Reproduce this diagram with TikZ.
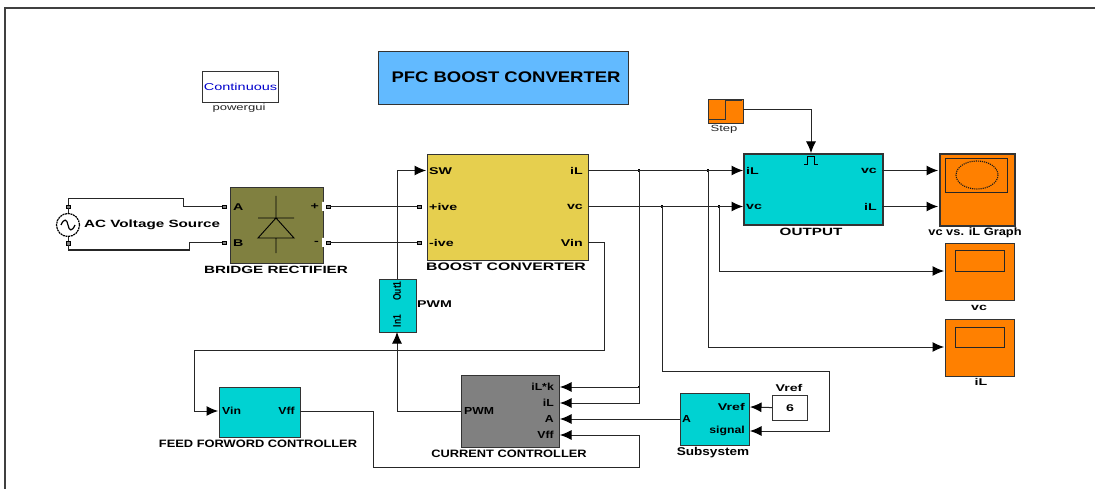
\documentclass[tikz,border=0pt]{standalone}
\usepackage{fontspec}
\usetikzlibrary{arrows.meta}
\setmainfont{Liberation Sans}
\newfontfamily\widesans[FakeStretch=1.2]{Liberation Sans}
\newfontfamily\extrasans[FakeStretch=1.45]{Liberation Sans}
\definecolor{cyanblock}{RGB}{0,210,210}
\definecolor{scopeor}{RGB}{255,128,0}
\definecolor{olive}{RGB}{128,128,64}
\definecolor{gold}{RGB}{230,207,78}
\definecolor{titleblue}{RGB}{98,186,255}
\definecolor{grayblock}{RGB}{128,128,128}
\tikzset{
  x=1pt,y=-1pt,
  wire/.style={draw=black!85,line width=1pt},
  arr/.style={wire,-{Latex[length=11.5pt,width=10pt,black]}},
  block/.style={draw=black!80,line width=1.1pt,inner sep=0pt,minimum width=0pt},
  lab/.style={font=\extrasans\bfseries\fontsize{9.8}{11}\selectfont,inner sep=0pt,text=black},
  labn/.style={font=\widesans\bfseries\fontsize{10.2}{11}\selectfont,inner sep=0pt,text=black},
  caption/.style={font=\extrasans\bfseries\fontsize{10.5}{12}\selectfont,inner sep=0pt,text=black},
  captionn/.style={font=\widesans\bfseries\fontsize{10.7}{12}\selectfont,inner sep=0pt,text=black},
  small/.style={font=\extrasans\fontsize{9}{10}\selectfont,inner sep=0pt,text=black!85},
  portsq/.style={draw=black,fill=black!50,line width=0.4pt,minimum width=3.5pt,minimum height=3.5pt,inner sep=0pt},
  dot/.style={fill=black,rectangle,inner sep=0pt,minimum size=2.6pt},
  rot/.style={font=\bfseries\fontsize{8.5}{10}\selectfont,rotate=90,inner sep=0pt},
}
\newcommand{\rectblock}[7]{% name, x1,y1,x2,y2, style, text
  \node[block,#6,minimum width={#4-#2},minimum height={#5-#3},anchor=north west] (#1) at (#2,#3) {#7};}
\begin{document}
\begin{tikzpicture}
\useasboundingbox (0,0) rectangle (1095,489);
\fill[white] (0,0) rectangle (1095,489);
% frame
\draw[black!75,line width=1.4pt] (5,489) -- (5,8) -- (1095,8);

% title and powergui
\rectblock{title}{378}{51}{628}{104}{fill=titleblue}{}
\node[font=\widesans\bfseries\fontsize{15.4}{17}\selectfont,inner sep=0pt] (titlet) at (506,77) {PFC BOOST CONVERTER};
\rectblock{gui}{202}{71}{278}{102}{fill=white}{\fontsize{10}{11}\extrasans\color{blue!80!black}Continuous}
\node[small] (guil) at (239,108) {powergui};

% source
\node[draw=black,dash pattern=on 2pt off 0.7pt,circle,line width=1.2pt,minimum size=23pt,inner sep=0pt] (src) at (68,225) {};
\draw[line width=1.2pt] (61,225) .. controls (64,218) and (67,219) .. (68,225) .. controls (69,231) and (72,232) .. (75,225);
\node[font=\extrasans\bfseries\fontsize{10.5}{12}\selectfont,inner sep=0pt,anchor=west] (srcl) at (84,225) {AC Voltage Source};
\node[portsq] (srcA) at (68,206.5) {};
\node[portsq] (srcB) at (68,243) {};
\draw[wire] (srcA) -- (src);
\draw[wire] (srcB) -- (src);

% bridge
\rectblock{bridge}{230}{187}{323}{263}{fill=olive}{}
\fill[white] (322,202) rectangle (324.5,211) (322,238) rectangle (324.5,247);
\node[lab,anchor=west] (brA) at (233,207) {A};
\node[lab,anchor=west] (brB) at (233,243) {B};
\node[lab,anchor=east] (brP) at (319,207) {+};
\node[lab,anchor=east] (brM) at (319,243) {-};
\draw[line width=0.9pt] (276,196) -- (276,218) (258,218) -- (294,218) -- (276,218) -- (258,238) -- (294,238) -- (276,218) (276,238) -- (276,253);
\node[caption] (brl) at (276,270) {BRIDGE RECTIFIER};
\node[portsq] (inA) at (224,206.5) {};
\node[portsq] (inB) at (224,242.5) {};
\node[portsq] (outP) at (328,206.5) {};
\node[portsq] (outM) at (328,242.5) {};

% boost
\rectblock{boost}{427}{154}{588}{260}{fill=gold}{}
\node[lab,anchor=west] at (429,171) {SW};
\node[lab,anchor=west] at (429,207) {+ive};
\node[lab,anchor=west] at (429,243) {-ive};
\node[lab,anchor=east] at (583,171) {iL};
\node[lab,anchor=east] at (583,207) {vc};
\node[lab,anchor=east] at (583,243) {Vin};
\node[caption,font=\extrasans\bfseries\fontsize{10.9}{12}\selectfont] (bol) at (506,267) {BOOST CONVERTER};
\node[portsq] (inP) at (419,206.5) {};
\node[portsq] (inM) at (419,242.5) {};
\coordinate (bSW) at (426,170.5);
\coordinate (biL) at (588,170.5);
\coordinate (bvc) at (588,206.5);
\coordinate (bVin) at (588,242.5);

% pwm
\rectblock{pwm}{379}{279}{416}{332}{fill=cyanblock}{}
\node[rot] at (397,291) {\scalebox{1}[1.3]{Out1}};
\node[rot] at (397,321) {\scalebox{1}[1.3]{In1}};
\node[lab,anchor=west] (pwml) at (417,304) {PWM};
\coordinate (pwmOut) at (397,279);
\coordinate (pwmIn) at (397,332);

% output
\rectblock{output}{743}{153}{882}{224}{fill=cyanblock,line width=1.6pt}{}
\node[lab,anchor=west] at (746,171) {iL};
\node[lab,anchor=west] at (746,207) {vc};
\node[lab,anchor=east] at (877,171) {vc};
\node[lab,anchor=east] at (877,207) {iL};
\node[caption] (outl) at (811,232) {OUTPUT};
\draw[line width=0.8pt] (804,164.5) -- (807,164.5) -- (807,156) -- (814,156) -- (814,164.5) -- (818,164.5);
\coordinate (oiL) at (743,170.5);
\coordinate (ovc) at (743,206.5);
\coordinate (ostep) at (811,153);
\coordinate (oa) at (882,170.5);
\coordinate (ob) at (882,206.5);

% step
\rectblock{stepblk}{708}{99}{743}{123}{fill=scopeor}{}
\draw[line width=0.7pt,black!80] (709,119) -- (725,119) -- (725,100) -- (742,100);
\node[small] (stepl) at (724,129) {Step};
\coordinate (stepo) at (743,110);

% scopes
\rectblock{graph}{939}{153}{1014}{225}{fill=scopeor,line width=1.6pt}{}
\draw[black!85,line width=0.8pt] (945,158) rectangle (1007,192);
\draw[black!90,line width=1.1pt,densely dotted] (977,175) ellipse [x radius=21,y radius=14];
\node[captionn] (graphl) at (975,233) {vc vs. iL Graph};
\coordinate (ga) at (938,170.5);
\coordinate (gb) at (938,206.5);

\rectblock{svc}{945}{243}{1014}{300}{fill=scopeor}{}
\draw[black!85,line width=0.8pt] (955,250) rectangle (1004,271);
\node[lab] (svcl) at (979,308) {vc};
\coordinate (svci) at (944,271);

\rectblock{sil}{945}{319}{1014}{376}{fill=scopeor}{}
\draw[black!85,line width=0.8pt] (955,327) rectangle (1004,347);
\node[lab] (sill) at (981,382) {iL};
\coordinate (silli) at (944,347);

% feed forward
\rectblock{ff}{219}{387}{300}{437}{fill=cyanblock}{}
\node[labn,anchor=west] at (222,411) {Vin};
\node[labn,anchor=east] at (295,411) {Vff};
\node[captionn] (ffl) at (258,444) {FEED FORWORD CONTROLLER};
\coordinate (ffi) at (218,411);
\coordinate (ffo) at (300,411);

% current controller
\rectblock{cc}{461}{375}{559}{447}{fill=grayblock}{}
\node[labn,anchor=west] at (464,411) {PWM};
\node[labn,anchor=east] at (554,387) {iL*k};
\node[labn,anchor=east] at (554,403) {iL};
\node[labn,anchor=east] at (554,419) {A};
\node[labn,anchor=east] at (554,435) {Vff};
\node[captionn] (ccl) at (509,454) {CURRENT CONTROLLER};
\coordinate (ccp) at (461,411);
\coordinate (cc1) at (560,387);
\coordinate (cc2) at (560,403);
\coordinate (cc3) at (560,419);
\coordinate (cc4) at (560,435);

% subsystem
\rectblock{sub}{680}{393}{749}{445}{fill=cyanblock}{}
\node[labn,anchor=west] at (682,419) {A};
\node[lab,anchor=east] at (745,407) {Vref};
\node[labn,anchor=east] at (745,431) {signal};
\node[captionn,font=\widesans\bfseries\fontsize{11.3}{12}\selectfont] (subl) at (713,453) {Subsystem};
\coordinate (sa) at (680,419);
\coordinate (sv) at (750,407);
\coordinate (ss) at (750,431);

% constant
\rectblock{const}{772}{395}{807}{420}{fill=white}{\extrasans\bfseries\fontsize{9.8}{11}\selectfont 6}
\node[lab] (constl) at (789,388) {Vref};

% junctions
\coordinate (j1) at (639,170.5);
\coordinate (j2) at (708,170.5);
\coordinate (j3) at (662,206.5);
\coordinate (j4) at (719,206.5);
\coordinate (j5) at (639,387);
\node[dot] at (j1) {};
\node[dot] at (j2) {};
\node[dot] at (j3) {};
\node[dot] at (j4) {};
\node[dot] at (j5) {};

% connectors
\draw[wire] (srcA) |- (183,198.5) |- (inA);
\draw[wire] (srcB) |- (189,250) |- (inB);
\draw[wire] (outP) -- (inP);
\draw[wire] (outM) -- (inM);
\draw[arr] (pwmOut) |- (bSW);
\draw[arr] (biL) -- (oiL);
\draw[arr] (bvc) -- (ovc);
\draw[arr] (stepo) -| (ostep);
\draw[arr] (oa) -- (ga);
\draw[arr] (ob) -- (gb);
\draw[arr] (j2) |- (silli);
\draw[arr] (j4) |- (svci);
\draw[arr] (j1) |- (cc2);
\draw[arr] (j5) -- (cc1);
\draw[arr] (sa) -- (cc3);
\draw[arr] (bVin) -- (604,242.5) -- (604,350) -- (194,350) -- (194,411) -- (ffi);
\draw[arr] (ccp) -- (397,411) -- (pwmIn);
\draw[arr] (ffo) -- (373,411) -- (373,467) -- (639,467) -- (639,435) -- (cc4);
\draw[arr] (const) -- (sv);
\draw[arr] (j3) -- (662,371) -- (829,371) -- (829,431) -- (ss);
\end{tikzpicture}
\end{document}
